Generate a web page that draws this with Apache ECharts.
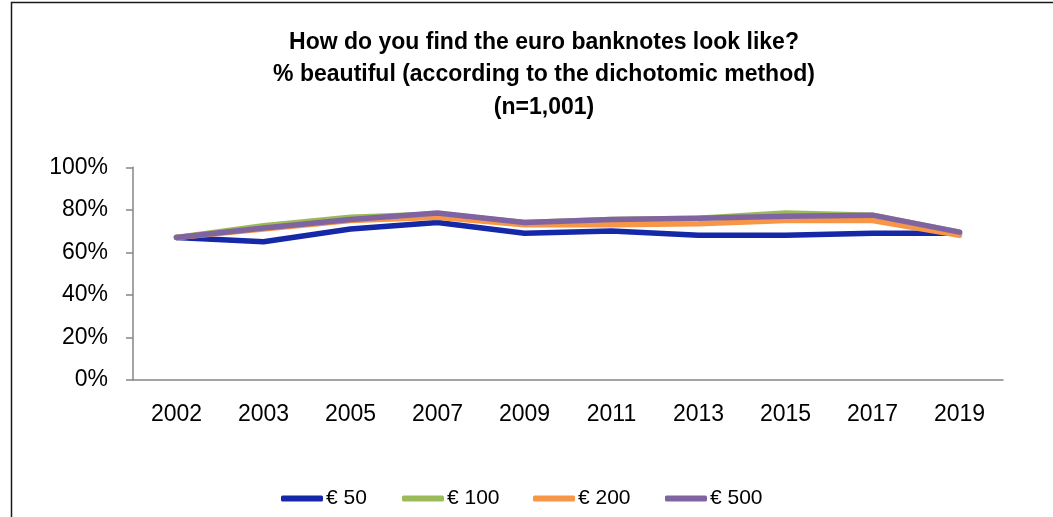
<!DOCTYPE html>
<html>
<head>
<meta charset="utf-8">
<script src="https://cdn.jsdelivr.net/npm/echarts@6/dist/echarts.min.js"></script>
<style>
html,body{margin:0;padding:0;background:#fff;}
#chart{width:1053px;height:517px;}
</style>
</head>
<body>
<div id="chart"></div>
<script>
const categories = ['2002','2003','2005','2007','2009','2011','2013','2015','2017','2019'];
const seriesNames = ['€ 50','€ 100','€ 200','€ 500'];
const euro50  = [67, 65, 71, 74, 69, 70, 68, 68, 69, 69];
const euro100 = [67, 72.5, 76.5, 78, 74, 75.5, 76, 78.5, 77.5, 69.5];
const euro200 = [67, 71, 75, 76.5, 73, 73, 73.5, 75, 75, 68];
const euro500 = [67, 71.5, 75.5, 78.5, 74, 75.5, 76, 77, 77.5, 69.5];
const yTicks = [0, 20, 40, 60, 80, 100];
const colors = ['#1428a8', '#9bbb59', '#f79646', '#8064a2'];
const legendLefts = [281, 402, 533, 665];
const FONT = 'Liberation Sans';

const chart = echarts.init(document.getElementById('chart'), null, {renderer:'canvas'});
const dataSets = [euro50, euro100, euro200, euro500];
chart.setOption({
  animation: false,
  textStyle: {fontFamily: FONT},
  graphic: [{
    type: 'rect', silent: true, z: -1,
    shape: {x: 11.5, y: 2.5, width: 1200, height: 700},
    style: {fill: 'none', stroke: '#1a1a1a', lineWidth: 1.5}
  }],
  title: {
    text: 'How do you find the euro banknotes look like?\n% beautiful (according to the dichotomic method)\n(n=1,001)',
    left: 539, top: 21, textAlign: 'center',
    textStyle: {fontFamily: FONT, fontWeight: 'bold', fontSize: 23, lineHeight: 32.5, color: '#000'}
  },
  legend: seriesNames.map((n, i) => ({
    data: [n],
    top: 483, left: legendLefts[i] - 5,
    icon: 'roundRect',
    itemWidth: 42, itemHeight: 6, itemGap: 0,
    textStyle: {fontFamily: FONT, fontSize: 21, color: '#000', padding: [0,0,0,-2]}
  })),
  grid: {left: 133, right: 50, top: 167.3, bottom: 137, containLabel: false},
  xAxis: {
    type: 'category', data: categories, boundaryGap: true,
    axisLine: {lineStyle: {color: '#868686', width: 1.5}},
    axisTick: {inside: true, length: 7, interval: 0, lineStyle: {color: '#868686', width: 1.5}},
    axisLabel: {fontFamily: FONT, fontSize: 23, color: '#000', margin: 23, interval: 0}
  },
  yAxis: {
    type: 'value', min: yTicks[0], max: yTicks[yTicks.length-1], interval: 20,
    axisLine: {show: true, lineStyle: {color: '#868686', width: 1.5}},
    axisTick: {show: true, length: 7, lineStyle: {color: '#868686', width: 1.5}},
    splitLine: {show: false},
    axisLabel: {fontFamily: FONT, fontSize: 23, color: '#000', margin: 25, formatter: '{value}%'}
  },
  series: seriesNames.map((n, i) => ({
    name: n, type: 'line', data: dataSets[i],
    showSymbol: false, symbol: 'none',
    lineStyle: {color: colors[i], width: 5.5, cap: 'round', join: 'round'},
    itemStyle: {color: colors[i]},
    z: 2 + i
  }))
});
</script>
</body>
</html>
